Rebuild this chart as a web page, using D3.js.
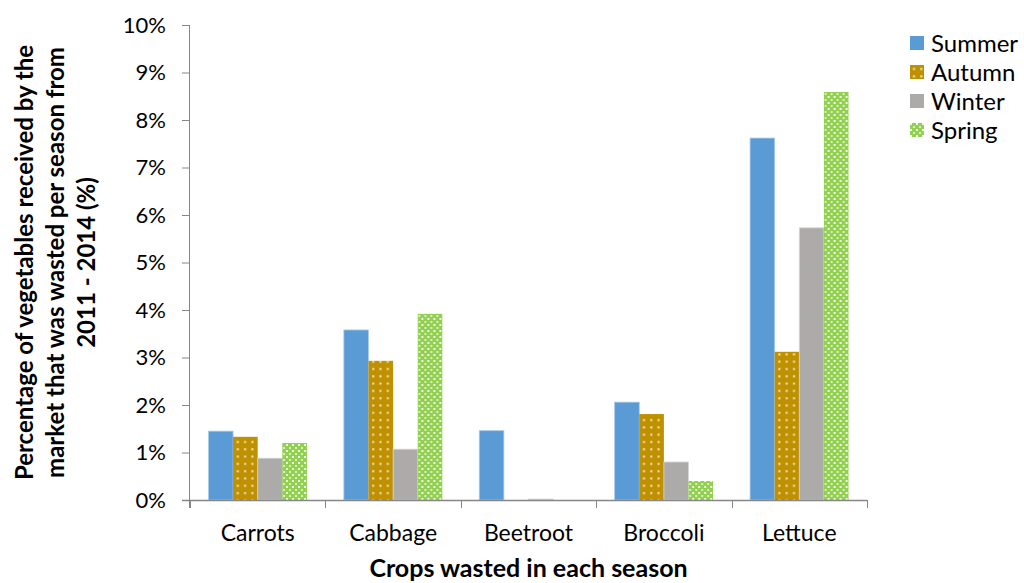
<!DOCTYPE html>
<html>
<head>
<meta charset="utf-8">
<script src="https://cdn.jsdelivr.net/npm/d3@7"></script>
<style>
  html, body { margin: 0; padding: 0; background: #fff; }
  svg { display: block; font-family: Lato, "Open Sans", sans-serif; }
</style>
</head>
<body>
<svg id="chart" width="1024" height="583"></svg>
<script>
// Crops and seasons
const crops = ["Carrots", "Cabbage", "Beetroot", "Broccoli", "Lettuce"];
const seasons = ["Summer", "Autumn", "Winter", "Spring"];

// Percentage of received vegetables wasted, per season
const summer = [1.45, 3.58, 1.46, 2.06, 7.62];
const autumn = [1.33, 2.93, 0.0, 1.81, 3.12];
const winter = [0.88, 1.07, 0.02, 0.80, 5.73];
const spring = [1.20, 3.92, 0.0, 0.40, 8.59];

const yTicks = [0, 1, 2, 3, 4, 5, 6, 7, 8, 9, 10];

const seriesValues = { Summer: summer, Autumn: autumn, Winter: winter, Spring: spring };

const svg = d3.select("#chart");
const margin = { left: 190, right: 157, top: 25, bottom: 83 };
const W = 1024, H = 583;

const defs = svg.append("defs");

// Autumn: gold fill with a grid of small light dots
const pAut = defs.append("pattern").attr("id", "pat-autumn")
  .attr("patternUnits", "userSpaceOnUse").attr("width", 7.3).attr("height", 7.3);
pAut.append("rect").attr("width", 7.3).attr("height", 7.3).attr("fill", "#BF9000");
pAut.append("rect").attr("x", 3).attr("y", 3).attr("width", 2).attr("height", 2).attr("fill", "#F3E7C4");

// Spring: green crosses between pale checks
const pSpr = defs.append("pattern").attr("id", "pat-spring")
  .attr("patternUnits", "userSpaceOnUse").attr("width", 6).attr("height", 6);
pSpr.append("rect").attr("width", 6).attr("height", 6).attr("fill", "#92D050");
pSpr.append("rect").attr("x", 0).attr("y", 0).attr("width", 2).attr("height", 2).attr("fill", "#F2FAEA");
pSpr.append("rect").attr("x", 3).attr("y", 3).attr("width", 2).attr("height", 2).attr("fill", "#D6EFBE");

const fills = {
  Summer: "#5B9BD5",
  Autumn: "url(#pat-autumn)",
  Winter: "#ADAAAA",
  Spring: "url(#pat-spring)"
};

const x0 = d3.scaleBand().domain(crops).range([margin.left, W - margin.right]).paddingInner(0).paddingOuter(0);
const x1 = d3.scaleBand().domain(seasons).range([0, x0.bandwidth()]).paddingInner(0).paddingOuter(0.75);
const y = d3.scaleLinear().domain([0, 10]).range([H - margin.bottom, margin.top]);

const axisColor = "#868686";

// Bars
const groups = svg.append("g").selectAll("g")
  .data(crops).join("g")
  .attr("transform", d => `translate(${x0(d)},0)`);

groups.selectAll("rect")
  .data((c, i) => seasons.map(s => ({ season: s, value: seriesValues[s][i] })))
  .join("rect")
  .attr("x", d => x1(d.season))
  .attr("y", d => y(d.value))
  .attr("width", x1.bandwidth())
  .attr("height", d => y(0) - y(d.value))
  .attr("fill", d => fills[d.season])
  .attr("stroke", d => d.season === "Summer" ? "#A9CBEA" : (d.season === "Winter" ? "#D6D4D4" : "none"))
  .attr("stroke-width", d => d.season === "Summer" || d.season === "Winter" ? 0.8 : 0);

// Y axis
const yAxis = d3.axisLeft(y).tickValues(yTicks).tickSize(8).tickPadding(16)
  .tickFormat(d => d + "%");
const gy = svg.append("g").attr("transform", `translate(${margin.left},0)`).call(yAxis);
gy.select(".domain").attr("stroke", axisColor).attr("d", `M-0.5,${y(10)}V${y(0) + 8}`);
gy.selectAll(".tick line").attr("stroke", axisColor);
gy.selectAll(".tick text").attr("fill", "#000").style("font-size", "22px")
  .style("font-family", "Lato, sans-serif");

// X axis
const xAxis = d3.axisBottom(x0).tickSize(0).tickPadding(25);
const gx = svg.append("g").attr("transform", `translate(0,${y(0)})`).call(xAxis);
gx.select(".domain").attr("stroke", axisColor).attr("stroke-width", 1.3)
  .attr("d", `M${margin.left - 8},0.5H${W - margin.right}`);
gx.selectAll(".tick text").attr("fill", "#000").style("font-size", "23px")
  .style("font-family", "Lato, sans-serif");
// category separators below the axis
const bounds = crops.map(c => x0(c)).concat([x0(crops[crops.length - 1]) + x0.bandwidth()]);
gx.selectAll("line.sep").data(bounds).join("line").attr("class", "sep")
  .attr("x1", d => Math.round(d) + 0.5).attr("x2", d => Math.round(d) + 0.5)
  .attr("y1", 0).attr("y2", 8).attr("stroke", axisColor);

// Axis titles
svg.append("text")
  .attr("x", (margin.left + W - margin.right) / 2).attr("y", 577)
  .attr("text-anchor", "middle").style("font-size", "25px").style("font-weight", "bold")
  .text("Crops wasted in each season");

const yTitle = ["Percentage of vegetables received by the",
  "market that was wasted per season from", "2011 - 2014 (%)"];
const yt = svg.append("text")
  .attr("transform", `translate(0,${(y(0) + y(10)) / 2}) rotate(-90)`)
  .attr("text-anchor", "middle").style("font-size", "24px").style("font-weight", "bold");
yTitle.forEach((line, i) => {
  yt.append("tspan").attr("x", 0).attr("y", 33 + i * 31).text(line);
});

// Legend
const legend = svg.append("g").attr("transform", "translate(910,36)");
const li = legend.selectAll("g").data(seasons).join("g")
  .attr("transform", (d, i) => `translate(0,${i * 29})`);
li.append("rect").attr("width", 14).attr("height", 14).attr("fill", d => fills[d]);
li.append("text").attr("x", 21).attr("y", 16).style("font-size", "24px").text(d => d);
</script>
</body>
</html>
